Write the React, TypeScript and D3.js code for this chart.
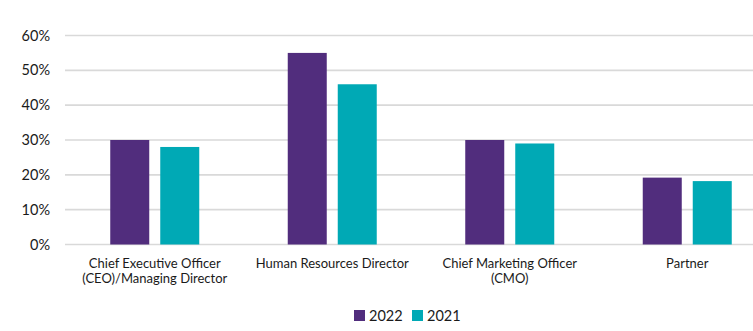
import React from "react";
import * as d3 from "d3";

const categories = [
  ["Chief Executive Officer", "(CEO)/Managing Director"],
  ["Human Resources Director"],
  ["Chief Marketing Officer", "(CMO)"],
  ["Partner"],
];
const series = ["2022", "2021"];
const values2022 = [30, 55, 30, 19.2];
const values2021 = [28, 46, 29, 18.2];
const yTicks = [0, 10, 20, 30, 40, 50, 60];
const colors = ["#512D7D", "#00A9B5"];

const W = 753;
const H = 331;
const FONT = "Lato, 'Open Sans', sans-serif";

export default function App() {
  const x0 = d3.scaleBand<number>().domain(d3.range(categories.length)).range([66, 776]).paddingInner(0).paddingOuter(0);
  const x1 = d3.scaleBand<number>().domain([0, 1]).range([0, 89]).paddingInner(0.22);
  const y = d3.scaleLinear().domain([0, 60]).range([244.5, 35.5]);
  const data = [values2022, values2021];

  return (
    <svg width={W} height={H} style={{ position: "absolute", left: 0, top: 0, background: "#fff" }} fontFamily={FONT}>
      {yTicks.map((t) => (
        <g key={t}>
          <line x1={65} x2={W} y1={y(t)} y2={y(t)} stroke="#d9d9d9" strokeWidth={1.6} />
          <text x={50} y={y(t)} dy="0.35em" textAnchor="end" fontSize={14.5} fill="#1a1a1a">
            {t}%
          </text>
        </g>
      ))}
      {categories.map((c, i) => {
        const cx = (x0(i) as number) + x0.bandwidth() / 2;
        const gx = cx - 44.5;
        return (
          <g key={i}>
            {data.map((vals, s) => (
              <rect
                key={s}
                x={gx + (x1(s) as number)}
                y={y(vals[i])}
                width={x1.bandwidth()}
                height={y(0) - y(vals[i])}
                fill={colors[s]}
              />
            ))}
            {c.map((line, k) => (
              <text key={k} x={cx} y={263 + k * 15.5} dy="0.35em" textAnchor="middle" fontSize={13} fill="#1a1a1a">
                {line}
              </text>
            ))}
          </g>
        );
      })}
      {series.map((s, i) => {
        const lx = [354, 412][i];
        return (
          <g key={s}>
            <rect x={lx} y={310} width={11} height={11} fill={colors[i]} />
            <text x={lx + 15} y={315.5} dy="0.35em" fontSize={14.5} fill="#1a1a1a">
              {s}
            </text>
          </g>
        );
      })}
    </svg>
  );
}
